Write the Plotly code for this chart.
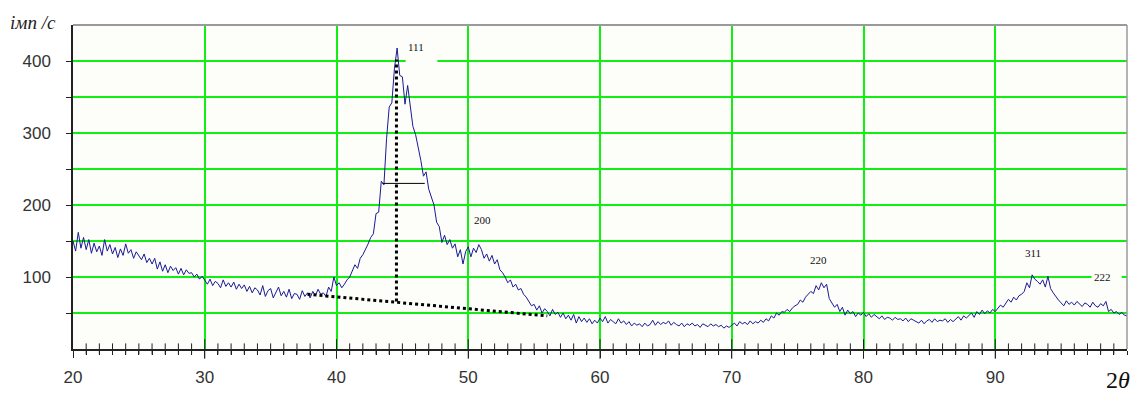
import numpy as np
import plotly.graph_objects as go

# 2theta grid (step 0.2 deg) and intensity values
two_theta = np.round(np.arange(20, 100.0001, 0.2), 1)
intensity = [
    150, 136, 162, 140, 155,   # 20
    138, 152, 133, 147, 135,   # 21
    143, 130, 152, 136, 145,   # 22
    132, 141, 127, 139, 130,   # 23
    146, 133, 138, 126, 135,   # 24
    130, 124, 132, 120, 126,   # 25
    118, 126, 111, 121, 108,   # 26
    117, 106, 115, 109, 113,   # 27
    104, 112, 103, 110, 105,   # 28
    106, 100, 104, 97, 101,    # 29
    96, 90, 97, 88, 94,        # 30
    91, 85, 96, 87, 92,        # 31
    86, 93, 83, 90, 84,        # 32
    89, 80, 87, 78, 85,        # 33
    82, 75, 88, 73, 81,        # 34
    84, 71, 79, 86, 74,        # 35
    80, 72, 83, 70, 77,        # 36
    76, 69, 81, 73, 78,        # 37
    71, 80, 74, 83, 76,        # 38
    78, 73, 86, 80, 100,       # 39
    88, 92, 85, 90, 96,        # 40
    100, 108, 117, 112, 126,   # 41
    131, 138, 146, 155, 160,   # 42
    188, 190, 233, 228, 292,   # 43
    336, 342, 390, 418, 380,   # 44
    378, 340, 366, 335, 309,   # 45
    298, 282, 262, 240, 246,   # 46
    222, 212, 200, 176, 170,   # 47
    148, 158, 145, 152, 140,   # 48
    146, 128, 138, 118, 135,   # 49
    142, 128, 140, 134, 145,   # 50
    138, 126, 132, 122, 130,   # 51
    118, 124, 110, 106, 100,   # 52
    92, 96, 86, 90, 82,        # 53
    84, 76, 72, 66, 60,        # 54
    62, 54, 60, 50, 56,        # 55
    52, 46, 55, 48, 51,        # 56
    44, 50, 42, 47, 40,        # 57
    48, 36, 45, 38, 43,        # 58
    37, 42, 35, 40, 36,        # 59
    43, 38, 45, 36, 41,        # 60
    38, 35, 42, 36, 39,        # 61
    34, 38, 32, 36, 33,        # 62
    35, 31, 36, 32, 34,        # 63
    40, 33, 38, 34, 37,        # 64
    35, 39, 33, 37, 34,        # 65
    32, 36, 31, 35, 33,        # 66
    36, 32, 34, 30, 35,        # 67
    33, 31, 35, 32, 34,        # 68
    31, 33, 29, 32, 30,        # 69
    33, 36, 32, 38, 35,        # 70
    37, 34, 39, 35, 38,        # 71
    36, 40, 37, 42, 39,        # 72
    46, 43, 50, 47, 52,        # 73
    51, 55, 52, 57, 60,        # 74
    62, 68, 65, 72, 76,        # 75
    80, 77, 88, 82, 92,        # 76
    85, 90, 70, 63, 58,        # 77
    62, 52, 58, 47, 54,        # 78
    49, 52, 45, 50, 47,        # 79
    51, 45, 49, 44, 48,        # 80
    45, 42, 46, 41, 44,        # 81
    43, 40, 44, 41, 42,        # 82
    39, 43, 38, 42, 40,        # 83
    38, 36, 40, 35, 39,        # 84
    41, 37, 42, 38, 40,        # 85
    39, 42, 37, 41, 38,        # 86
    42, 45, 40, 46, 43,        # 87
    47, 50, 44, 52, 48,        # 88
    54, 49, 53, 50, 55,        # 89
    52, 57, 61, 58, 64,        # 90
    69, 65, 72, 68, 74,        # 91
    76, 80, 92, 85, 103,       # 92
    97, 94, 90, 96, 86,        # 93
    101, 84, 78, 72, 68,       # 94
    64, 60, 67, 62, 65,        # 95
    61, 66, 63, 59, 64,        # 96
    62, 58, 65, 60, 58,        # 97
    63, 60, 66, 52, 55,        # 98
    50, 52, 48, 51, 47,        # 99
    46,                        # 100
]

# Construction lines for the (111) peak
baseline_x = [37.8, 56.0]
baseline_y = [76, 46]
peak_line_x = [44.55, 44.55]
peak_line_y = [66, 402]
fwhm_x = [43.5, 46.7]
fwhm_y = [230, 230]

# Reflection labels
peak_labels = ["111", "200", "220", "311", "222"]
peak_label_x = [46.0, 51.1, 76.6, 92.9, 98.15]
peak_label_y = [419, 179, 124, 133, 100]

x_ticks = [20, 30, 40, 50, 60, 70, 80, 90]
x_major_inner = [30, 40, 50, 60, 70, 80, 90]
x_minor_inner = [v for v in range(21, 100) if v % 10 != 0]
y_ticks = [50, 100, 150, 200, 250, 300, 350, 400]
y_ticktext = ["", "100", "", "200", "", "300", "", "400"]

PLOT_BG = "#fdfdf9"
GRID = "#11ee11"
AXIS = "#222222"
serif = "Liberation Serif, Times New Roman, serif"
sans = "Liberation Sans, Arial, sans-serif"

fig = go.Figure()

fig.add_trace(go.Scatter(
    x=two_theta, y=intensity, mode="lines",
    line=dict(color="#1a1a96", width=1), hoverinfo="skip", showlegend=False))

fig.add_trace(go.Scatter(
    x=baseline_x, y=baseline_y, mode="lines",
    line=dict(color="black", width=3, dash="dot"), showlegend=False, hoverinfo="skip"))
fig.add_trace(go.Scatter(
    x=peak_line_x, y=peak_line_y, mode="lines",
    line=dict(color="black", width=3, dash="dot"), showlegend=False, hoverinfo="skip"))
fig.add_trace(go.Scatter(
    x=fwhm_x, y=fwhm_y, mode="lines",
    line=dict(color="black", width=1), showlegend=False, hoverinfo="skip"))

# inward halves of the crossing tick marks on the x axis
fig.add_trace(go.Scatter(
    x=x_minor_inner, y=[0] * len(x_minor_inner), mode="markers",
    marker=dict(symbol="line-ns-open", size=8, color=AXIS, line=dict(color=AXIS, width=1)),
    cliponaxis=False, showlegend=False, hoverinfo="skip"))
fig.add_trace(go.Scatter(
    x=x_major_inner, y=[0] * len(x_major_inner), mode="markers",
    marker=dict(symbol="line-ns-open", size=14, color=AXIS, line=dict(color=AXIS, width=1)),
    cliponaxis=False, showlegend=False, hoverinfo="skip"))

fig.update_layout(
    width=1139, height=394,
    margin=dict(l=73, r=12, t=25, b=45, autoexpand=False),
    paper_bgcolor="white",
    plot_bgcolor=PLOT_BG,
    xaxis=dict(
        range=[20, 100], tickvals=x_ticks, showgrid=True, gridcolor=GRID, gridwidth=2,
        zeroline=False, showline=True, linecolor=AXIS, linewidth=1.5,
        ticks="outside", ticklen=7, tickcolor=AXIS, tickwidth=1,
        minor=dict(dtick=1, ticks="outside", ticklen=4, tickcolor=AXIS, showgrid=False),
        tickfont=dict(family=sans, size=17, color="#333"),
        ticklabelstandoff=5, automargin=False,
    ),
    yaxis=dict(
        range=[0, 450], tickvals=y_ticks, ticktext=y_ticktext,
        showgrid=True, gridcolor=GRID, gridwidth=2,
        zeroline=False, showline=True, linecolor=AXIS, linewidth=1.5,
        ticks="outside", ticklen=5, tickcolor=AXIS,
        tickfont=dict(family=sans, size=17, color="#333"),
        ticklabelstandoff=12, automargin=False,
    ),
    font=dict(family=sans),
)

# top and right frame (gray)
fig.add_shape(type="line", xref="x domain", yref="y domain", x0=0, x1=1, y0=1, y1=1,
              line=dict(color="#9a9a9a", width=2), layer="above")
fig.add_shape(type="line", xref="x domain", yref="y domain", x0=1, x1=1, y0=0, y1=1,
              line=dict(color="#9a9a9a", width=1.5), layer="above")

# label backgrounds that interrupt grid lines
fig.add_shape(type="rect", x0=45.25, x1=47.65, y0=392, y1=440,
              fillcolor=PLOT_BG, line=dict(width=0), layer="above")
fig.add_shape(type="rect", x0=97.31, x1=99.59, y0=92, y1=109,
              fillcolor=PLOT_BG, line=dict(width=0), layer="above")

for txt, lx, ly in zip(peak_labels, peak_label_x, peak_label_y):
    fig.add_annotation(x=lx, y=ly, text=txt, showarrow=False,
                       font=dict(family=serif, size=11, color="#111"))

fig.add_annotation(xref="paper", yref="paper", x=-0.038, y=1.009, text="<i>імп /с</i>",
                   xanchor="center", yanchor="middle",
                   showarrow=False, font=dict(family=serif, size=19, color="#222"))
fig.add_annotation(xref="paper", yref="paper", x=0.991, y=-0.0957, text="2<i>θ</i>",
                   xanchor="center", yanchor="middle",
                   showarrow=False, font=dict(family=serif, size=24, color="#111"))

fig.write_html("out.html", config={"displayModeBar": False},
               post_script="document.body.style.margin='0';document.body.style.padding='0';")
